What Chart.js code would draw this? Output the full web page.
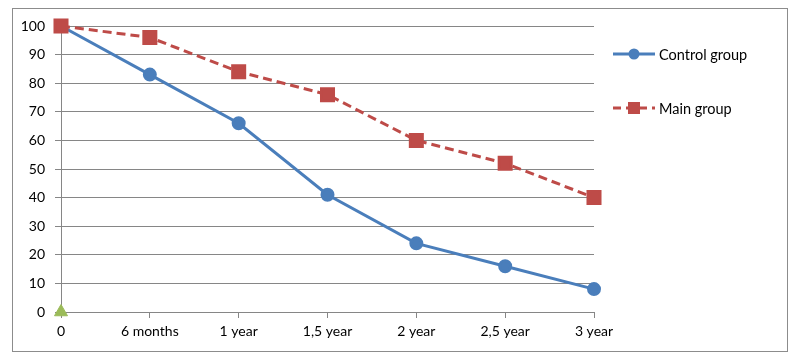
<!DOCTYPE html>
<html><head><meta charset="utf-8">
<script src="https://cdn.jsdelivr.net/npm/chart.js@4/dist/chart.umd.min.js"></script>
<style>html,body{margin:0;padding:0;background:#fff}#wrap{width:800px;height:357px}</style>
</head><body><div id="wrap"><canvas id="c" width="800" height="357"></canvas></div>
<script>
const categories = ['0','6 months','1 year','1,5 year','2 year','2,5 year','3 year'];
const controlGroup = [100, 83, 66, 41, 24, 16, 8];
const mainGroup = [100, 96, 84, 76, 60, 52, 40];
const baseline = [0, null, null, null, null, null, null];
const yTicks = [0,10,20,30,40,50,60,70,80,90,100];

const FONT = 'Lato, "Open Sans", sans-serif';

const frame = {
  id:'frame',
  beforeDraw(chart){
    const ctx = chart.ctx;
    ctx.save();
    ctx.fillStyle='#fff'; ctx.fillRect(0,0,chart.width,chart.height);
    ctx.strokeStyle='#8c8c8c'; ctx.lineWidth=1;
    ctx.strokeRect(12.5,8.5,775,343);
    ctx.restore();
  },
  afterDraw(chart){
    const ctx = chart.ctx;
    const items = [
      {label:chart.data.datasets[0].label, color:'#4a7ebb', dash:[], style:'circle', y:54},
      {label:chart.data.datasets[1].label, color:'#be4b48', dash:[8,5], style:'rect', y:108}
    ];
    ctx.save();
    items.forEach(it=>{
      ctx.strokeStyle=it.color; ctx.fillStyle=it.color; ctx.lineWidth=3;
      ctx.setLineDash(it.dash);
      ctx.beginPath(); ctx.moveTo(613,it.y); ctx.lineTo(655,it.y); ctx.stroke();
      ctx.setLineDash([]);
      if(it.style==='circle'){ctx.beginPath();ctx.arc(634,it.y,5.5,0,Math.PI*2);ctx.fill();}
      else {ctx.fillRect(628,it.y-6,12,12);}
      ctx.fillStyle='#000'; ctx.font='14.5px '+FONT; ctx.textBaseline='middle'; ctx.textAlign='left';
      ctx.fillText(it.label,659,it.y+1);
    });
    ctx.restore();
  }
};

new Chart(document.getElementById('c'),{
  type:'line',
  data:{labels:categories,datasets:[
    {label:'Control group',order:2,clip:false,data:controlGroup,borderColor:'#4a7ebb',backgroundColor:'#4a7ebb',borderWidth:3,pointStyle:'circle',pointRadius:5.5,pointHoverRadius:5.5,tension:0},
    {label:'Main group',order:1,clip:false,data:mainGroup,borderColor:'#be4b48',backgroundColor:'#be4b48',borderWidth:3,borderDash:[9,5],pointStyle:'rect',pointRadius:8.5,pointHoverRadius:8.5,tension:0},
    {label:'',order:0,clip:false,data:baseline,borderColor:'#9bbb59',backgroundColor:'#9bbb59',pointStyle:'triangle',pointRadius:7.5,pointHoverRadius:7.5,showLine:false}
  ]},
  options:{
    responsive:false,animation:false,
    layout:{padding:{left:0,right:206,top:26,bottom:10}},
    plugins:{legend:{display:false},tooltip:{enabled:false}},
    scales:{
      x:{offset:false,
        grid:{drawOnChartArea:false,drawTicks:true,tickLength:6,color:'#868686'},
        border:{color:'#868686'},
        ticks:{color:'#000',font:{family:FONT,size:14},padding:5,maxRotation:0,autoSkip:false},
        afterFit(s){s.height=35;}
      },
      y:{min:0,max:100,
        afterBuildTicks(s){s.ticks=yTicks.map(v=>({value:v}));},
        grid:{color:'#868686',tickLength:6,drawTicks:true},
        border:{color:'#868686'},
        ticks:{color:'#000',font:{family:FONT,size:14},padding:10},
        afterFit(s){s.width=61;}
      }
    }
  },
  plugins:[frame]
});
</script></body></html>
